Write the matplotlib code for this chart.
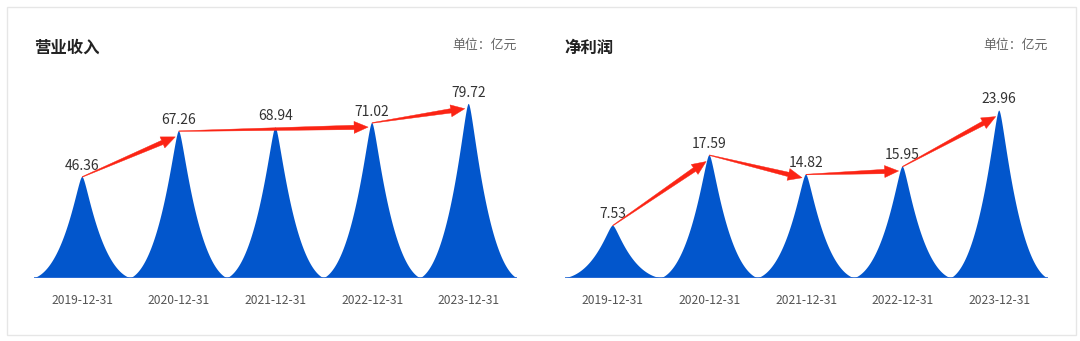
import numpy as np
import matplotlib
matplotlib.use('Agg')
import matplotlib.pyplot as plt
from matplotlib.patches import Polygon, Rectangle

plt.rcParams['font.family'] = ['Noto Sans CJK SC', 'DejaVu Sans']

years = ['2019-12-31', '2020-12-31', '2021-12-31', '2022-12-31', '2023-12-31']
revenue = [46.36, 67.26, 68.94, 71.02, 79.72]
profit = [7.53, 17.59, 14.82, 15.95, 23.96]
# which peaks the red arrows join
revenue_arrows = [(0, 1), (1, 3), (3, 4)]
profit_arrows = [(0, 1), (1, 2), (2, 3), (3, 4)]

BLUE = '#0256cc'
RED = '#fb2414'
W, H = 1080, 341


def peak_outline(n=120, c1=0.09, c2=0.34, e=0.1):
    # right half of the peak as a cubic bezier, top (0,1) -> foot (1,0)
    t = np.linspace(0, 1, n)
    u = 3 * (1 - t) ** 2 * t * c1 + 3 * (1 - t) * t ** 2 * c2 + t ** 3
    f = (1 - t) ** 3 + 3 * (1 - t) ** 2 * t + 3 * (1 - t) * t ** 2 * e
    return u, f


def draw_arrow(ax, p0, p1):
    # tapered red arrow, built in pixels then mapped back to data
    to_px = ax.transData
    s = to_px.transform(p0)
    e = to_px.transform(p1)
    d = (e - s) / np.hypot(*(e - s))
    tip = e - 4 * d + np.array([0, -4])
    d = (tip - s) / np.hypot(*(tip - s))
    nrm = np.array([-d[1], d[0]])
    head_len, head_w = 14, 6
    w0, w1 = 0.3, 2.2
    b = tip - head_len * d
    pts = [s + nrm * w0, b + nrm * w1, b + nrm * head_w, tip,
           b - nrm * head_w, b - nrm * w1, s - nrm * w0]
    pts = to_px.inverted().transform(np.array(pts))
    ax.add_patch(Polygon(pts, closed=True, facecolor=RED, edgecolor=RED,
                         lw=0.3, zorder=5, clip_on=False))


def draw_panel(left, values, ymax, arrows, title):
    ax = fig.add_axes([left / W, (H - 278.3) / H, 483 / W, 175 / H])
    ax.set_xlim(-0.5, len(values) - 0.5)
    ax.set_ylim(0, ymax)
    ax.axis('off')
    u, f = peak_outline()
    for i, v in enumerate(values):
        xs = np.concatenate([i - 0.5 * u[::-1], i + 0.5 * u])
        ys = np.concatenate([v * f[::-1], v * f])
        ax.fill(xs, ys, color=BLUE, lw=0, zorder=2)
        ax.annotate(f'{v:.2f}', (i, v), xytext=(0, 5.3), textcoords='offset points',
                    ha='center', va='baseline', fontsize=10, color='#333333')
        ax.annotate(years[i], (i, 0), xytext=(0, -18.5), textcoords='offset points',
                    ha='center', va='baseline', fontsize=8.7, color='#555555')
    ax.axhline(0, color='#2f6fd6', lw=1.2, zorder=3)
    for a, b in arrows:
        draw_arrow(ax, (a, values[a]), (b, values[b]))
    fig.text(left / W, (H - 53) / H, title, fontsize=11.8, fontweight='bold',
             color='#222222', ha='left', va='baseline')
    fig.text((left + 483) / W, (H - 48.5) / H, '单位：亿元', fontsize=9.3,
             color='#666666', ha='right', va='baseline')
    return ax


fig = plt.figure(figsize=(W / 100, H / 100), dpi=100)
fig.patches.append(Rectangle((6.5 / W, 6.5 / H), 1069 / W, 328 / H,
                             transform=fig.transFigure, fill=False,
                             edgecolor='#e6e6e6', lw=1))

draw_panel(34, revenue, 80, revenue_arrows, '营业收入')
draw_panel(564.5, profit, 25, profit_arrows, '净利润')

fig.savefig('out.png', dpi=100)
